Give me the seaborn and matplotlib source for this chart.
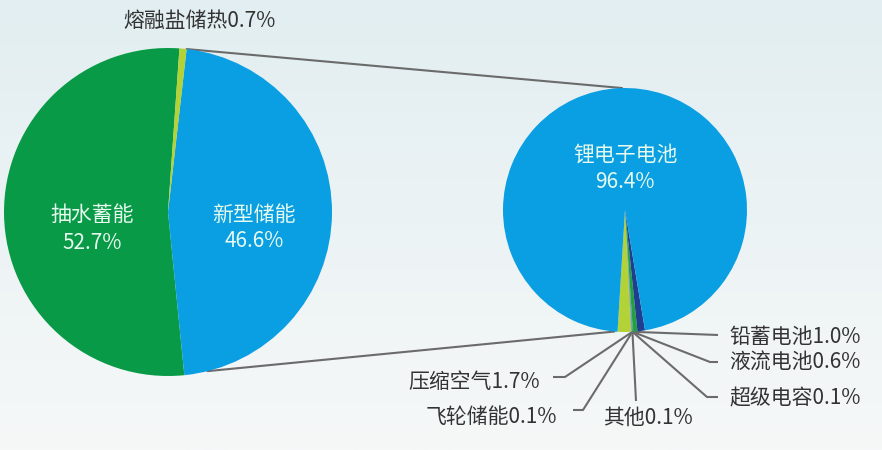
import numpy as np
import pandas as pd
import matplotlib
matplotlib.use("Agg")
import matplotlib.pyplot as plt
import seaborn as sns

sns.set_theme(style="white")
plt.rcParams['font.family'] = ['Noto Sans CJK SC', 'DejaVu Sans']

# ---- data ----
main_labels = ['抽水蓄能', '新型储能', '熔融盐储热']
main_values = [52.7, 46.6, 0.7]
main_colors = ['#089a46', '#0a9ee2', '#b2d235']

sub_labels = ['压缩空气', '飞轮储能', '其他', '超级电容', '液流电池', '铅蓄电池', '锂电子电池']
sub_values = [1.7, 0.1, 0.1, 0.1, 0.6, 1.0, 96.4]
sub_colors = ['#b2d235', '#7cc242', '#8a8a8a', '#3a7fc1', '#22a23c', '#1f3e8f', '#0a9ee2']

W, H = 882, 450
fig = plt.figure(figsize=(W / 100, H / 100), dpi=100)
ax = fig.add_axes([0, 0, 1, 1])

# background gradient
grad = np.linspace(0, 1, 256).reshape(-1, 1)
top = np.array([0xe2, 0xee, 0xf1]) / 255
bot = np.array([0xf6, 0xf8, 0xf8]) / 255
img = top[None, None, :] * (1 - grad[:, :, None]) + bot[None, None, :] * grad[:, :, None]
ax.imshow(img, extent=(0, W, 0, H), aspect='auto', zorder=0, origin='upper')

def Y(y):
    return H - y

# left pie
c1 = (168, Y(212)); r1 = 164
w1, _ = ax.pie(main_values, colors=main_colors, startangle=86, counterclock=True,
               center=c1, radius=r1, wedgeprops=dict(linewidth=0), frame=True)
# right pie
c2 = (625, Y(210)); r2 = 122
w2, _ = ax.pie(sub_values, colors=sub_colors, startangle=266.5, counterclock=True,
               center=c2, radius=r2, wedgeprops=dict(linewidth=0), frame=True)
for w in list(w1) + list(w2):
    w.set_zorder(2)

def pt(c, r, ang):
    a = np.deg2rad(ang)
    return c[0] + r * np.cos(a), c[1] + r * np.sin(a)

line_col = '#6b6b6b'
# connectors between pies
p_top_l = pt(c1, r1, w1[1].theta2)
p_top_r = pt(c2, r2, 91.4)
p_bot_l = pt(c1, r1, 284)
p_bot_r = pt(c2, r2, 265)
ax.plot([p_top_l[0], p_top_r[0]], [p_top_l[1], p_top_r[1]], color=line_col, lw=1.5, zorder=1)
ax.plot([p_bot_l[0], p_bot_r[0]], [p_bot_l[1], p_bot_r[1]], color=line_col, lw=1.5, zorder=1)

inner_col = '#e6faf0'
fs = 15
ax.text(92, Y(215), main_labels[0], color=inner_col, fontsize=fs, ha='center', va='center', zorder=3)
ax.text(92, Y(243), f'{main_values[0]}%', color=inner_col, fontsize=fs, ha='center', va='center', zorder=3)
ax.text(254, Y(215), main_labels[1], color=inner_col, fontsize=fs, ha='center', va='center', zorder=3)
ax.text(254, Y(241), f'{main_values[1]}%', color=inner_col, fontsize=fs, ha='center', va='center', zorder=3)
ax.text(625, Y(155), sub_labels[6], color=inner_col, fontsize=fs, ha='center', va='center', zorder=3)
ax.text(625, Y(182), f'{sub_values[6]}%', color=inner_col, fontsize=fs, ha='center', va='center', zorder=3)

txt_col = '#333333'
ax.text(200, Y(21), f'{main_labels[2]}{main_values[2]}%', color=txt_col, fontsize=fs,
        ha='center', va='center', zorder=3)

# leader lines for small slices
origin = pt(c2, r2, 273.5)
leaders = {
    '压缩空气': ([(565, 377), (553, 377)], (540, 382), 'right'),
    '飞轮储能': ([(583, 410), (573, 410)], (557, 417), 'right'),
    '其他':     ([(636, 401)], (648, 418), 'center'),
    '超级电容': ([(707, 397), (718, 397)], (729, 398), 'left'),
    '液流电池': ([(710, 362), (718, 362)], (729, 363), 'left'),
    '铅蓄电池': ([(718, 335)], (729, 337), 'left'),
}
for lab, val in zip(sub_labels[:6], sub_values[:6]):
    pts, tpos, ha = leaders[lab]
    xs = [origin[0]] + [p[0] for p in pts]
    ys = [origin[1]] + [Y(p[1]) for p in pts]
    ax.plot(xs, ys, color=line_col, lw=1.5, zorder=1, solid_capstyle='butt')
    ax.text(tpos[0], Y(tpos[1]), f'{lab}{val}%', color=txt_col, fontsize=fs,
            ha=ha, va='center', zorder=3)

ax.set_xlim(0, W)
ax.set_ylim(0, H)
ax.set_aspect('auto')
ax.axis('off')
fig.savefig('out.png', dpi=100)
